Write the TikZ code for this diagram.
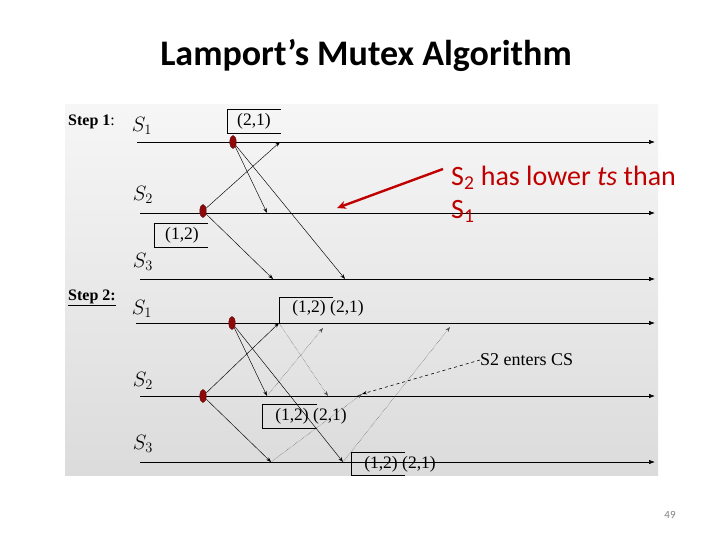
\documentclass[tikz,border=0pt]{standalone}
\usepackage{fontspec}
\setmainfont{Liberation Serif}
\newfontfamily\slidefont{Carlito}
\usepackage{xcolor}
\usetikzlibrary{positioning, shapes.geometric, arrows.meta, calc}

\definecolor{slidered}{HTML}{C00000}
\definecolor{dotred}{HTML}{8E0A0A}

\begin{document}
\begin{tikzpicture}[x=1pt, y=-1pt,
    timeline/.style={line width=0.7pt, -{Latex[length=6pt,width=4.5pt]}},
    msg/.style={line width=0.45pt, -{Stealth[length=5pt,width=3.5pt]}},
    reply/.style={msg, densely dotted, gray!60!black},
    event/.style={ellipse, fill=dotred, draw=dotred!70!black, minimum width=6.5pt, minimum height=13pt, inner sep=0pt},
    stamp/.style={font=\fontsize{17.5}{20}\selectfont, inner sep=0pt},
    proc/.style={font=\fontsize{20}{22}\selectfont, inner sep=0pt},
    steplabel/.style={font=\fontsize{16}{18}\selectfont\bfseries, inner sep=0pt}]
    \useasboundingbox (0,0) rectangle (720,540);
    % slide title and page number
    \node[font=\fontsize{36}{40}\slidefont\bfseries] (title) at (366,55) {Lamport’s Mutex Algorithm};
    \node[font=\fontsize{11}{13}\slidefont, gray] (page) at (670,515) {49};
    % grey picture background
    \shade[top color=gray!7, bottom color=gray!28] (65,105) rectangle (658,475);
    % ---------------- Step 1 ----------------
    \node[steplabel, anchor=west] (step1) at (68,122) {Step 1\textmd{:}};
    \node[proc] (p11) at (142,126) {$S_{1}$};
    \node[proc] (p12) at (143,195) {$S_{2}$};
    \node[proc] (p13) at (143,262) {$S_{3}$};
    \coordinate (s11) at (137,142);  \coordinate (t11) at (655,142);
    \coordinate (s12) at (140,213);  \coordinate (t12) at (655,213);
    \coordinate (s13) at (140,279);  \coordinate (t13) at (655,279);
    \draw[timeline] (s11) -- (t11);
    \draw[timeline] (s12) -- (t12);
    \draw[timeline] (s13) -- (t13);
    \node[stamp] (ts21) at (254,121) {(2,1)};
    \draw[line width=0.6pt] (281,109) -- (227,109) -- (227,133) -- (281,133);
    \node[stamp] (ts12) at (182,235) {(1,2)};
    \draw[line width=0.6pt] (208,223) -- (154,223) -- (154,247) -- (208,247);
    \coordinate (a11) at (280,142);
    \coordinate (a12) at (267,213);
    \coordinate (a13) at (345,279);
    \coordinate (b13) at (273,279);
    \node[event] (e11) at (233,142) {};
    \node[event] (e12) at (203,211) {};
    \draw[msg] (e12) -- (a11);
    \draw[msg] (e11) -- (a12);
    \draw[msg] (e11) -- (a13);
    \draw[msg] (e12) -- (b13);
    % red remark
    \node[font=\fontsize{28}{33}\slidefont, text=slidered, align=left, anchor=north west, inner sep=0pt] (note) at (451,166)
        {S\textsubscript{2} has lower \textit{ts} than\\S\textsubscript{1}};
    \coordinate (hint) at (337,208);
    \draw[slidered, line width=2.4pt, -{Stealth[length=9pt,width=8pt]}] (443,169) -- (hint);
    % ---------------- Step 2 ----------------
    \node[steplabel, anchor=west] (step2) at (68,298) {\underline{Step 2:}};
    \node[proc] (p21) at (142,309) {$S_{1}$};
    \node[proc] (p22) at (143,381) {$S_{2}$};
    \node[proc] (p23) at (143,444) {$S_{3}$};
    \coordinate (s21) at (136,323);  \coordinate (t21) at (655,323);
    \coordinate (s22) at (140,396);  \coordinate (t22) at (655,396);
    \coordinate (s23) at (140,462);  \coordinate (t23) at (655,462);
    \draw[timeline] (s21) -- (t21);
    \draw[timeline] (s22) -- (t22);
    \draw[timeline] (s23) -- (t23);
    \node[stamp] (q1) at (328,308) {(1,2) (2,1)};
    \draw[line width=0.6pt] (333,297) -- (279,297) -- (279,323);
    \node[stamp] (q2) at (311,416) {(1,2) (2,1)};
    \draw[line width=0.6pt] (317,404) -- (262,404) -- (262,428) -- (317,428);
    \node[stamp] (q3) at (400,464) {(1,2) (2,1)};
    \draw[line width=0.6pt] (405,452) -- (351,452) -- (351,475) -- (405,475);
    \coordinate (c21) at (279,323);
    \coordinate (c22) at (267,396);
    \coordinate (c23) at (343,462);
    \coordinate (d23) at (271,462);
    \coordinate (r22) at (328,396);
    \coordinate (r21) at (323,328);
    \coordinate (r31) at (450,327);
    \coordinate (enter) at (362,394);
    \node[event] (f21) at (232,323) {};
    \node[event] (f22) at (203,396) {};
    \draw[msg] (f22) -- (c21);
    \draw[msg] (f21) -- (c22);
    \draw[msg] (f21) -- (c23);
    \draw[msg] (f22) -- (d23);
    \draw[reply] (c21) -- (r22);
    \draw[reply] (c22) -- (r21);
    \draw[reply] (d23) -- (enter);
    \draw[reply] (c23) -- (r31);
    \node[font=\fontsize{18}{20}\selectfont, inner sep=0pt, anchor=west] (cs) at (480,360) {S2 enters CS};
    \draw[msg, dashed, line width=0.6pt] (cs.west) -- (enter);
\end{tikzpicture}
\end{document}
